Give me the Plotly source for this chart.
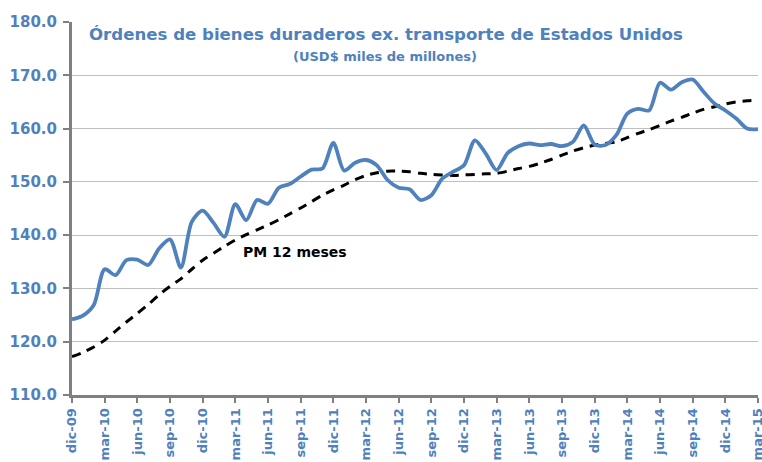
import plotly.graph_objects as go

tick_labels = ["dic-09", "mar-10", "jun-10", "sep-10", "dic-10", "mar-11", "jun-11",
               "sep-11", "dic-11", "mar-12", "jun-12", "sep-12", "dic-12", "mar-13",
               "jun-13", "sep-13", "dic-13", "mar-14", "jun-14", "sep-14", "dic-14", "mar-15"]

months = list(range(64))

ordenes = [124.2, 124.9, 126.9, 133.6, 132.5, 135.3, 135.4, 134.4, 137.5, 139.2,
           133.9, 142.5, 144.6, 142.3, 139.7, 145.8, 142.8, 146.6, 145.9, 148.9,
           149.6, 151.0, 152.3, 152.5, 157.3, 152.1, 153.6, 154.1, 153.1, 150.3,
           148.9, 148.6, 146.6, 147.5, 150.6, 151.9, 153.1, 157.8, 155.3, 152.2,
           155.4, 156.7, 157.2, 156.9, 157.1, 156.7, 157.5, 160.6, 157.0, 156.9,
           158.8, 162.8, 163.7, 163.4, 168.6, 167.3, 168.7, 169.2, 166.9, 164.7,
           163.4, 161.9, 160.0, 159.9]

pm12 = [117.2, 118.0, 119.0, 120.3, 122.0, 123.7, 125.3, 127.0, 128.8, 130.4,
        131.8, 133.6, 135.3, 136.6, 137.9, 139.1, 140.1, 141.0, 141.9, 142.9,
        144.0, 145.1, 146.3, 147.5, 148.5, 149.4, 150.4, 151.2, 151.7, 152.0,
        152.0, 151.9, 151.6, 151.4, 151.3, 151.2, 151.3, 151.4, 151.5, 151.6,
        152.0, 152.5, 152.9, 153.5, 154.2, 155.0, 155.8, 156.4, 156.9, 157.2,
        157.5, 158.3, 159.1, 159.8, 160.6, 161.4, 162.1, 162.9, 163.6, 164.1,
        164.6, 165.0, 165.2, 165.3]

y_ticks = [110, 120, 130, 140, 150, 160, 170, 180]

BLUE = "#4F81BD"
FONT = "DejaVu Sans"

L, R, T, B = 72, 4, 22, 67
PW, PH = 762 - L - R, 462 - T - B

fig = go.Figure()
fig.add_trace(go.Scatter(x=months, y=pm12, mode="lines",
                         line=dict(color="black", width=3, dash="9px,7px", shape="spline", smoothing=0.8),
                         showlegend=False, hoverinfo="skip"))
fig.add_trace(go.Scatter(x=months, y=ordenes, mode="lines",
                         line=dict(color=BLUE, width=3.8, shape="spline", smoothing=0.8),
                         showlegend=False, hoverinfo="skip"))

fig.update_layout(
    width=762, height=462,
    margin=dict(l=L, r=R, t=T, b=B, pad=0),
    paper_bgcolor="white", plot_bgcolor="white",
    font=dict(family=FONT),
    xaxis=dict(range=[0, 63], tickvals=months[::3], ticktext=tick_labels, automargin=False,
               ticklabeloverflow="allow",
               tickangle=-90, tickfont=dict(family=FONT, size=13, color=BLUE, weight="bold"),
               showgrid=False, zeroline=False, showline=True, linecolor="#808080", linewidth=3,
               ticks="outside", ticklen=5, tickwidth=2, tickcolor="#808080"),
    yaxis=dict(range=[110, 180], tickvals=y_ticks, ticktext=[f"{v:.1f}" for v in y_ticks],
               automargin=False, ticklabelstandoff=3,
               tickfont=dict(family=FONT, size=15, color=BLUE, weight="bold"),
               showgrid=True, gridcolor="#BFBFBF", gridwidth=1, zeroline=False,
               showline=True, linecolor="#808080", linewidth=3,
               ticks="outside", ticklen=6, tickwidth=2, tickcolor="#808080"),
    annotations=[
        dict(text="Órdenes de bienes duraderos ex. transporte de Estados Unidos",
             xref="paper", yref="paper", x=(386 - L) / PW, y=(462 - B - 34) / PH,
             xanchor="center", yanchor="middle", showarrow=False,
             font=dict(family=FONT, size=16.6, color=BLUE, weight="bold")),
        dict(text="(USD$ miles de millones)",
             xref="paper", yref="paper", x=(385 - L) / PW, y=(462 - B - 57) / PH,
             xanchor="center", yanchor="middle", showarrow=False,
             font=dict(family=FONT, size=13, color=BLUE, weight="bold")),
        dict(text="PM 12 meses", xref="paper", yref="paper",
             x=(241 - L) / PW, y=(462 - B - 252) / PH, xanchor="left", yanchor="middle",
             showarrow=False, font=dict(family=FONT, size=14, color="black", weight="bold")),
    ],
)

fig.write_html("out.html", config={"displayModeBar": False},
               post_script="document.body.style.margin='0';document.body.style.overflow='hidden';")
